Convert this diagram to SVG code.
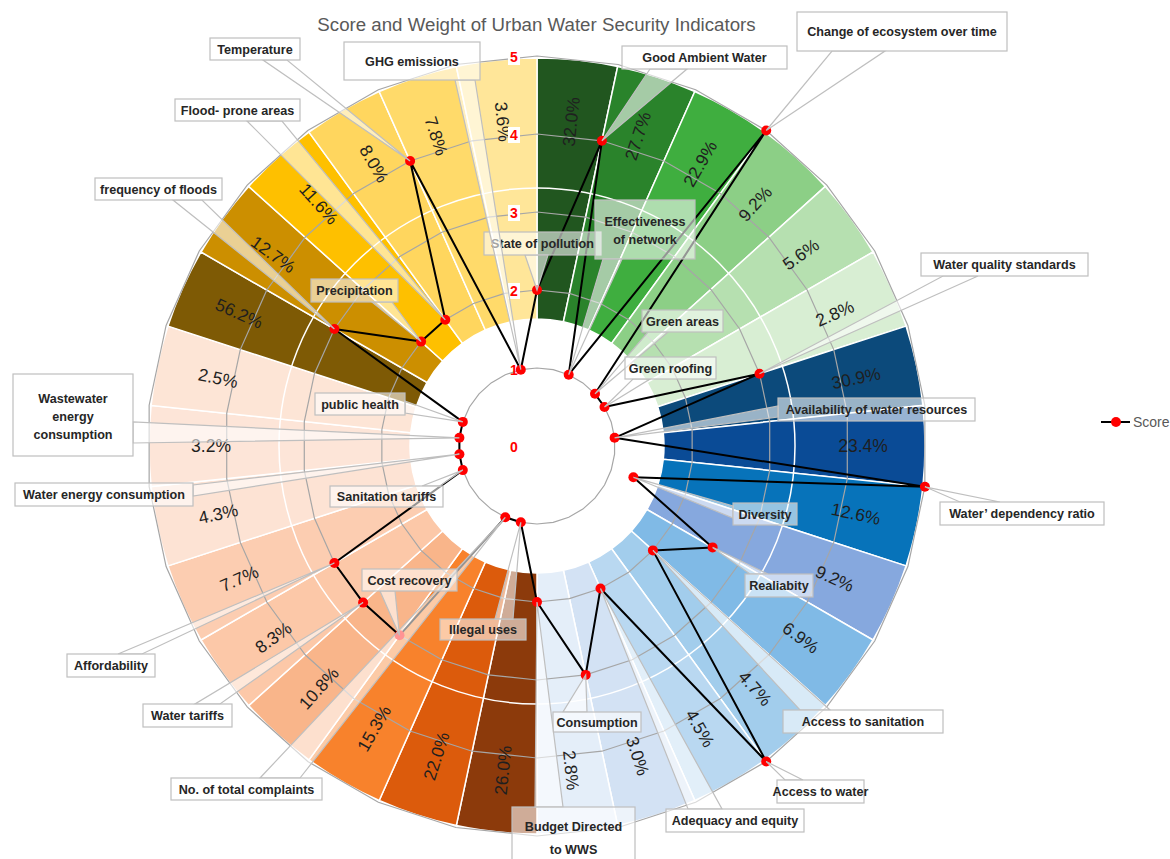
<svg xmlns="http://www.w3.org/2000/svg" xmlns:xlink="http://www.w3.org/1999/xlink" width="1170" height="859" viewBox="0 0 1170 859">
<style>
.sec{stroke:#fff;stroke-width:1.5}
.grid{fill:none;stroke:#a6a6a6}
.pct{font-family:"Liberation Sans",Arial,sans-serif;font-size:17.5px;fill:#1f1f1f;text-anchor:middle}
.co{fill:#fff;fill-opacity:0.58;stroke:#bfbfbf;stroke-width:1.2}
.lbl{font-family:"Liberation Sans",Arial,sans-serif;font-size:12.6px;font-weight:bold;fill:#262626;text-anchor:middle}
.ax{font-family:"Liberation Sans",Arial,sans-serif;font-size:14px;font-weight:bold;fill:#ff0000;text-anchor:middle}
.axbg{fill:#fff}
.dot{fill:#ff0000}
.radar{fill:none;stroke:#000;stroke-width:2;stroke-linejoin:round}
</style>
<defs>
<path id="sec" d="M537,58 A388,388 0 0 1 617.67,66.48 L563.40,321.77 A127,127 0 0 0 537,319 Z"/>
<polygon id="gp" points="0,-78 16.22,-76.30 31.73,-71.26 45.85,-63.10 57.96,-52.19 67.55,-39 74.18,-24.10 77.57,-8.15 77.57,8.15 74.18,24.10 67.55,39 57.96,52.19 45.85,63.10 31.73,71.26 16.22,76.30 0,78 -16.22,76.30 -31.73,71.26 -45.85,63.10 -57.96,52.19 -67.55,39 -74.18,24.10 -77.57,8.15 -77.57,-8.15 -74.18,-24.10 -67.55,-39 -57.96,-52.19 -45.85,-63.10 -31.73,-71.26 -16.22,-76.30"/>
</defs>
<rect width="1170" height="859" fill="#fff"/>
<text x="536.5" y="31" font-family="Liberation Sans, Arial, sans-serif" font-size="18.7" fill="#595959" text-anchor="middle">Score and Weight of Urban Water Security Indicators</text>

<g id="sectors">
<use href="#sec" class="sec" fill="#21561f"/>
<use href="#sec" class="sec" fill="#2a832b" transform="rotate(12 537 446)"/>
<use href="#sec" class="sec" fill="#3fae3f" transform="rotate(24 537 446)"/>
<use href="#sec" class="sec" fill="#8ccf86" transform="rotate(36 537 446)"/>
<use href="#sec" class="sec" fill="#b6e0b0" transform="rotate(48 537 446)"/>
<use href="#sec" class="sec" fill="#d8eed3" transform="rotate(60 537 446)"/>
<use href="#sec" class="sec" fill="#0c4a7b" transform="rotate(72 537 446)"/>
<use href="#sec" class="sec" fill="#0a4b96" transform="rotate(84 537 446)"/>
<use href="#sec" class="sec" fill="#0773ba" transform="rotate(96 537 446)"/>
<use href="#sec" class="sec" fill="#86a8de" transform="rotate(108 537 446)"/>
<use href="#sec" class="sec" fill="#80bae6" transform="rotate(120 537 446)"/>
<use href="#sec" class="sec" fill="#a2cdec" transform="rotate(132 537 446)"/>
<use href="#sec" class="sec" fill="#b9d8f1" transform="rotate(144 537 446)"/>
<use href="#sec" class="sec" fill="#d3e2f4" transform="rotate(156 537 446)"/>
<use href="#sec" class="sec" fill="#e4eef9" transform="rotate(168 537 446)"/>
<use href="#sec" class="sec" fill="#8c3a0b" transform="rotate(180 537 446)"/>
<use href="#sec" class="sec" fill="#dc5b0c" transform="rotate(192 537 446)"/>
<use href="#sec" class="sec" fill="#f8822c" transform="rotate(204 537 446)"/>
<use href="#sec" class="sec" fill="#f9b58a" transform="rotate(216 537 446)"/>
<use href="#sec" class="sec" fill="#fcc8a8" transform="rotate(228 537 446)"/>
<use href="#sec" class="sec" fill="#fccdb1" transform="rotate(240 537 446)"/>
<use href="#sec" class="sec" fill="#fde3d4" transform="rotate(252 537 446)"/>
<use href="#sec" class="sec" fill="#fde5d8" transform="rotate(264 537 446)"/>
<use href="#sec" class="sec" fill="#fde5d6" transform="rotate(276 537 446)"/>
<use href="#sec" class="sec" fill="#7e5a05" transform="rotate(288 537 446)"/>
<use href="#sec" class="sec" fill="#cc8f00" transform="rotate(300 537 446)"/>
<use href="#sec" class="sec" fill="#fec000" transform="rotate(312 537 446)"/>
<use href="#sec" class="sec" fill="#ffd65e" transform="rotate(324 537 446)"/>
<use href="#sec" class="sec" fill="#ffda6a" transform="rotate(336 537 446)"/>
<use href="#sec" class="sec" fill="#ffe699" transform="rotate(348 537 446)"/>
<circle cx="537" cy="446" r="258" fill="none" stroke="#fff" stroke-width="1.5"/>
</g>

<g id="grid">
<use href="#gp" class="grid" stroke-width="1.2" transform="translate(537 446)"/>
<use href="#gp" class="grid" stroke-width="0.6" transform="translate(537 446) scale(2)"/>
<use href="#gp" class="grid" stroke-width="0.4" transform="translate(537 446) scale(3)"/>
<use href="#gp" class="grid" stroke-width="0.3" transform="translate(537 446) scale(4)"/>
<use href="#gp" class="grid" stroke-width="0.24" transform="translate(537 446) scale(5)"/>
</g>

<g id="weights">
<text class="pct" dy="0.35em" transform="rotate(6 537 446) translate(537 120) rotate(-90)">32.0%</text>
<text class="pct" dy="0.35em" transform="rotate(18 537 446) translate(537 120) rotate(-90)">27.7%</text>
<text class="pct" dy="0.35em" transform="rotate(30 537 446) translate(537 120) rotate(-90)">22.9%</text>
<text class="pct" dy="0.35em" transform="rotate(42 537 446) translate(537 120) rotate(-90)">9.2%</text>
<text class="pct" dy="0.35em" transform="rotate(54 537 446) translate(537 120) rotate(-90)">5.6%</text>
<text class="pct" dy="0.35em" transform="rotate(66 537 446) translate(537 120) rotate(-90)">2.8%</text>
<text class="pct" dy="0.35em" transform="rotate(78 537 446) translate(537 120) rotate(-90)">30.9%</text>
<text class="pct" dy="0.35em" transform="rotate(90 537 446) translate(537 120) rotate(-90)">23.4%</text>
<text class="pct" dy="0.35em" transform="rotate(102 537 446) translate(537 120) rotate(-90)">12.6%</text>
<text class="pct" dy="0.35em" transform="rotate(114 537 446) translate(537 120) rotate(-90)">9.2%</text>
<text class="pct" dy="0.35em" transform="rotate(126 537 446) translate(537 120) rotate(-90)">6.9%</text>
<text class="pct" dy="0.35em" transform="rotate(138 537 446) translate(537 120) rotate(-90)">4.7%</text>
<text class="pct" dy="0.35em" transform="rotate(150 537 446) translate(537 120) rotate(-90)">4.5%</text>
<text class="pct" dy="0.35em" transform="rotate(162 537 446) translate(537 120) rotate(-90)">3.0%</text>
<text class="pct" dy="0.35em" transform="rotate(174 537 446) translate(537 120) rotate(-90)">2.8%</text>
<text class="pct" dy="0.35em" transform="rotate(186 537 446) translate(537 120) rotate(90)">26.0%</text>
<text class="pct" dy="0.35em" transform="rotate(198 537 446) translate(537 120) rotate(90)">22.0%</text>
<text class="pct" dy="0.35em" transform="rotate(210 537 446) translate(537 120) rotate(90)">15.3%</text>
<text class="pct" dy="0.35em" transform="rotate(222 537 446) translate(537 120) rotate(90)">10.8%</text>
<text class="pct" dy="0.35em" transform="rotate(234 537 446) translate(537 120) rotate(90)">8.3%</text>
<text class="pct" dy="0.35em" transform="rotate(246 537 446) translate(537 120) rotate(90)">7.7%</text>
<text class="pct" dy="0.35em" transform="rotate(258 537 446) translate(537 120) rotate(90)">4.3%</text>
<text class="pct" dy="0.35em" transform="rotate(270 537 446) translate(537 120) rotate(90)">3.2%</text>
<text class="pct" dy="0.35em" transform="rotate(282 537 446) translate(537 120) rotate(90)">2.5%</text>
<text class="pct" dy="0.35em" transform="rotate(294 537 446) translate(537 120) rotate(90)">56.2%</text>
<text class="pct" dy="0.35em" transform="rotate(306 537 446) translate(537 120) rotate(90)">12.7%</text>
<text class="pct" dy="0.35em" transform="rotate(318 537 446) translate(537 120) rotate(90)">11.6%</text>
<text class="pct" dy="0.35em" transform="rotate(330 537 446) translate(537 120) rotate(90)">8.0%</text>
<text class="pct" dy="0.35em" transform="rotate(342 537 446) translate(537 120) rotate(90)">7.8%</text>
<text class="pct" dy="0.35em" transform="rotate(354 537 446) translate(537 120) rotate(90)">3.6%</text>
</g>

<g id="axis">
<text class="ax" x="514" y="452">0</text>
<text class="ax" x="514" y="375">1</text>
<rect class="axbg" x="508" y="283" width="12" height="16"/>
<text class="ax" x="514" y="296">2</text>
<rect class="axbg" x="508" y="205" width="12" height="16"/>
<text class="ax" x="514" y="218">3</text>
<rect class="axbg" x="508" y="127" width="12" height="16"/>
<text class="ax" x="514" y="140">4</text>
<rect class="axbg" x="508" y="49" width="12" height="16"/>
<text class="ax" x="514" y="62">5</text>
</g>

<g id="connectors">
<polygon class="radar" points="537,290 601.9,140.8 568.7,374.7 766.2,130.5 595,393.8 604.5,407 759.5,373.7 614.6,437.8 924.9,486.8 633.4,477.3 712.6,547.4 652.9,550.4 766.2,761.5 600.5,588.5 585.7,674.9 537,602 520.8,522.3 505.3,517.3 399.5,635.3 363.1,602.6 334.4,563 462.8,470.1 459.4,454.2 459.4,437.8 462.8,421.9 334.4,329 421.1,341.6 445.3,319.8 410.1,161 520.8,369.7"/>
<g class="dot">
<circle cx="537" cy="290" r="5"/><circle cx="601.9" cy="140.8" r="5"/><circle cx="568.7" cy="374.7" r="5"/><circle cx="766.2" cy="130.5" r="5"/><circle cx="595" cy="393.8" r="5"/><circle cx="604.5" cy="407" r="5"/><circle cx="759.5" cy="373.7" r="5"/><circle cx="614.6" cy="437.8" r="5"/><circle cx="924.9" cy="486.8" r="5"/><circle cx="633.4" cy="477.3" r="5"/><circle cx="712.6" cy="547.4" r="5"/><circle cx="652.9" cy="550.4" r="5"/><circle cx="766.2" cy="761.5" r="5"/><circle cx="600.5" cy="588.5" r="5"/><circle cx="585.7" cy="674.9" r="5"/><circle cx="537" cy="602" r="5"/><circle cx="520.8" cy="522.3" r="5"/><circle cx="505.3" cy="517.3" r="5"/><circle cx="399.5" cy="635.3" r="5"/><circle cx="363.1" cy="602.6" r="5"/><circle cx="334.4" cy="563" r="5"/><circle cx="462.8" cy="470.1" r="5"/><circle cx="459.4" cy="454.2" r="5"/><circle cx="459.4" cy="437.8" r="5"/><circle cx="462.8" cy="421.9" r="5"/><circle cx="334.4" cy="329" r="5"/><circle cx="421.1" cy="341.6" r="5"/><circle cx="445.3" cy="319.8" r="5"/><circle cx="410.1" cy="161" r="5"/><circle cx="520.8" cy="369.7" r="5"/>
</g>
</g>

<g id="state-of-pollution"><polygon class="co" points="525,255 548,255 537,290"/><rect class="co" x="484" y="232" width="117" height="23"/><text class="lbl" x="542.5" y="248">State of pollution</text></g>
<g id="good-ambient-water"><polygon class="co" points="650,69 687,69 601.9,140.8"/><rect class="co" x="622" y="46" width="165" height="23"/><text class="lbl" x="704.5" y="62">Good Ambient Water</text></g>
<g id="effectiveness-of-network"><polygon class="co" points="603,259 622,259 568.7,374.7"/><rect class="co" x="595" y="200" width="100" height="59"/><text class="lbl" x="645" y="225.5">Effectiveness</text><text class="lbl" x="645" y="243.5">of network</text></g>
<g id="change-of-ecosystem"><polygon class="co" points="832,51 885,51 766.2,130.5"/><rect class="co" x="797" y="12" width="210" height="39"/><text class="lbl" x="902" y="36">Change of ecosystem over time</text></g>
<g id="green-areas"><polygon class="co" points="648,332 668,332 595,393.8"/><rect class="co" x="642" y="310" width="81" height="22"/><text class="lbl" x="682.5" y="325.5">Green areas</text></g>
<g id="green-roofing"><polygon class="co" points="633,379 650,379 604.5,407"/><rect class="co" x="625" y="357" width="91" height="22"/><text class="lbl" x="670.5" y="372.5">Green roofing</text></g>
<g id="water-quality-standards"><polygon class="co" points="943,276 978,276 759.5,373.7"/><rect class="co" x="921" y="253" width="167" height="23"/><text class="lbl" x="1004.5" y="269">Water quality standards</text></g>
<g id="availability-of-water-resources"><polygon class="co" points="778,406 778,417 614.6,437.8"/><rect class="co" x="778" y="398" width="197" height="23"/><text class="lbl" x="876.5" y="414">Availability of water resources</text></g>
<g id="water-dependency-ratio"><polygon class="co" points="960,502 1000,502 924.9,486.8"/><rect class="co" x="940" y="502" width="164" height="23"/><text class="lbl" x="1022" y="518">Water’ dependency ratio</text></g>
<g id="diversity"><polygon class="co" points="733,506 733,518 633.4,477.3"/><rect class="co" x="733" y="503" width="64" height="22"/><text class="lbl" x="765" y="518.5">Diversity</text></g>
<g id="realiabity"><polygon class="co" points="750,574 768,574 712.6,547.4"/><rect class="co" x="745" y="574" width="68" height="23"/><text class="lbl" x="779" y="590">Realiabity</text></g>
<g id="access-to-sanitation"><polygon class="co" points="800,710 830,710 652.9,550.4"/><rect class="co" x="783" y="710" width="160" height="23"/><text class="lbl" x="863" y="726">Access to sanitation</text></g>
<g id="access-to-water"><polygon class="co" points="785,780 803,780 766.2,761.5"/><rect class="co" x="777" y="780" width="87" height="23"/><text class="lbl" x="820.5" y="796">Access to water</text></g>
<g id="adequacy-and-equity"><polygon class="co" points="688,809 722,809 600.5,588.5"/><rect class="co" x="666" y="809" width="138" height="23"/><text class="lbl" x="735" y="825">Adequacy and  equity</text></g>
<g id="consumption"><polygon class="co" points="563,712 587,712 585.7,674.9"/><rect class="co" x="553" y="712" width="88" height="20"/><text class="lbl" x="597" y="726.5">Consumption</text></g>
<g id="budget-directed-to-wws"><polygon class="co" points="535,807 563,807 537,602"/><rect class="co" x="512" y="807" width="123" height="62"/><text class="lbl" x="573.5" y="830.5">Budget Directed</text><text class="lbl" x="573.5" y="854">to WWS</text></g>
<g id="illegal-uses"><polygon class="co" points="495,619 513,619 520.8,522.3"/><rect class="co" x="440" y="619" width="86" height="21"/><text class="lbl" x="483" y="634">Illegal uses</text></g>
<g id="no-of-total-complaints"><polygon class="co" points="260,778 300,778 505.3,517.3"/><rect class="co" x="171" y="778" width="151" height="22"/><text class="lbl" x="246.5" y="793.5">No. of total complaints</text></g>
<g id="cost-recovery"><polygon class="co" points="380,591 395,591 399.5,635.3"/><rect class="co" x="362" y="569" width="95" height="22"/><text class="lbl" x="409.5" y="584.5">Cost recovery</text></g>
<g id="water-tariffs"><polygon class="co" points="195,704 220,704 363.1,602.6"/><rect class="co" x="143" y="704" width="89" height="23"/><text class="lbl" x="187.5" y="720">Water tariffs</text></g>
<g id="affordability"><polygon class="co" points="118,654 142,654 334.4,563"/><rect class="co" x="67" y="654" width="88" height="23"/><text class="lbl" x="111" y="670">Affordability</text></g>
<g id="sanitation-tariffs"><polygon class="co" points="422,486 440,486 462.8,470.1"/><rect class="co" x="330" y="486" width="113" height="21"/><text class="lbl" x="386.5" y="500.5">Sanitation tariffs</text></g>
<g id="water-energy-consumption"><polygon class="co" points="193,485 193,496 459.4,454.2"/><rect class="co" x="15" y="483" width="178" height="23"/><text class="lbl" x="104" y="499">Water energy consumption</text></g>
<g id="wastewater-energy-consumption"><polygon class="co" points="133,422 133,443 459.4,437.8"/><rect class="co" x="13" y="374" width="120" height="82"/><text class="lbl" x="73" y="402.5">Wastewater</text><text class="lbl" x="73" y="421">energy</text><text class="lbl" x="73" y="438.5">consumption</text></g>
<g id="public-health"><polygon class="co" points="405,401 405,413 462.8,421.9"/><rect class="co" x="315" y="393" width="90" height="22"/><text class="lbl" x="360" y="408.5">public health</text></g>
<g id="frequency-of-floods"><polygon class="co" points="173,200 202,200 334.4,329"/><rect class="co" x="95" y="178" width="127" height="22"/><text class="lbl" x="158.5" y="193.5">frequency of floods</text></g>
<g id="precipitation"><polygon class="co" points="372,302 392,302 421.1,341.6"/><rect class="co" x="311" y="279" width="87" height="23"/><text class="lbl" x="354.5" y="295">Precipitation</text></g>
<g id="flood-prone-areas"><polygon class="co" points="247,121 282,121 445.3,319.8"/><rect class="co" x="175" y="99" width="125" height="22"/><text class="lbl" x="237.5" y="114.5">Flood- prone areas</text></g>
<g id="temperature"><polygon class="co" points="263,60 287,60 410.1,161"/><rect class="co" x="210" y="38" width="90" height="22"/><text class="lbl" x="255" y="53.5">Temperature</text></g>
<g id="ghg-emissions"><polygon class="co" points="455,80 475,80 520.8,369.7"/><rect class="co" x="344" y="42" width="136" height="38"/><text class="lbl" x="412" y="65.5">GHG emissions</text></g>

<g id="legend">
<line x1="1101" y1="422" x2="1130" y2="422" stroke="#000" stroke-width="2"/>
<circle class="dot" cx="1116" cy="422" r="5"/>
<text x="1133" y="427" font-family="Liberation Sans, Arial, sans-serif" font-size="14" fill="#595959">Score</text>
</g>
</svg>
